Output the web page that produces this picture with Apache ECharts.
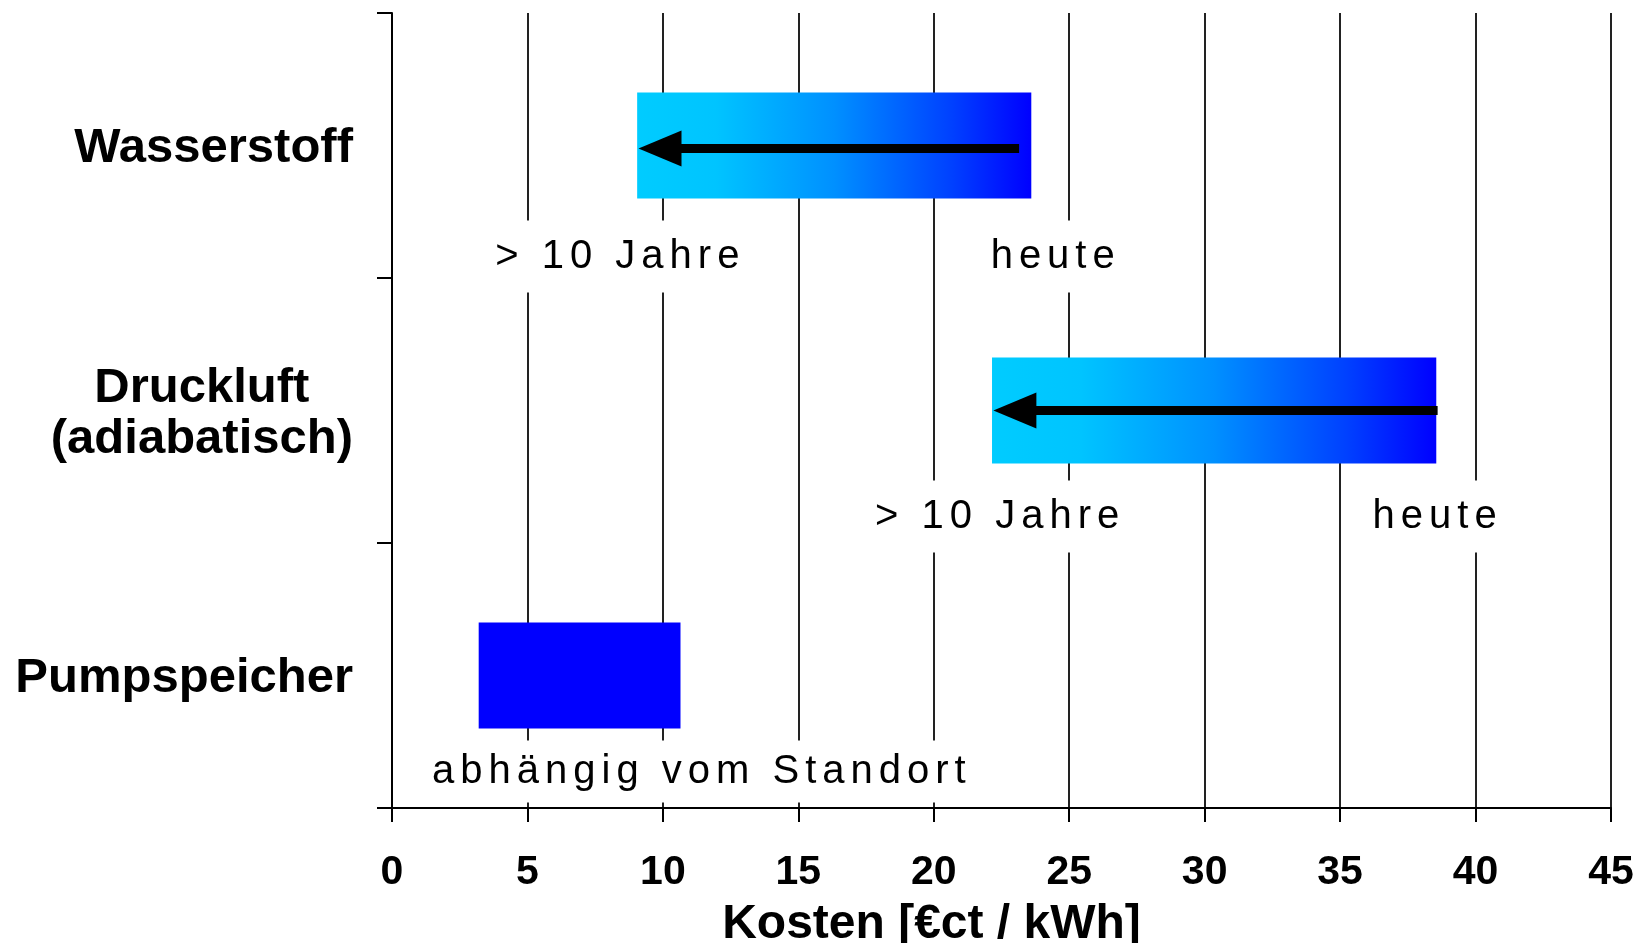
<!DOCTYPE html>
<html>
<head>
<meta charset="utf-8">
<script src="https://cdn.jsdelivr.net/npm/echarts@6/dist/echarts.min.js"></script>
<style>
html,body{margin:0;padding:0;background:#fff}
#chart{width:1650px;height:943px}
</style>
</head>
<body>
<div id="chart"></div>
<script>
// ---- data ----
const categories = ['Wasserstoff', 'Druckluft\n(adiabatisch)', 'Pumpspeicher'];
const rangeStart = [9.05, 22.15, 3.2];
const rangeEnd = [23.6, 38.55, 10.65];
const gradientRows = [true, true, false];
const arrowRows = [0, 1];
const arrowFrom = [23.15, 38.6];   // heute
const arrowTo = [9.1, 22.2];       // > 10 Jahre
const noteTexts = ['> 10 Jahre', 'heute', '> 10 Jahre', 'heute', 'abhängig vom Standort'];
const noteX = [8.43, 24.5, 22.45, 38.6, 11.44];
const noteRows = [0, 0, 1, 1, 2];
const axisMin = 0, axisMax = 45, axisStep = 5;
const axisTitle = 'Kosten [€ct / kWh]';

// letter spacing for the regular-weight annotation texts
(function () {
  const proto = CanvasRenderingContext2D.prototype;
  const orig = proto.fillText;
  proto.fillText = function () {
    try { this.letterSpacing = /bold/.test(this.font) ? '0px' : '6px'; } catch (e) {}
    return orig.apply(this, arguments);
  };
})();

const FF = '"Liberation Sans", Arial, Helvetica, sans-serif';
const noteOffset = [111, 106, 96];
const notePadding = [[16, 34], [16, 34], [11, 34]];
const arrowDy = [3, 0];

const chart = echarts.init(document.getElementById('chart'));
chart.setOption({
  animation: false,
  backgroundColor: '#fff',
  grid: { left: 392, right: 39, top: 13, bottom: 135, containLabel: false, outerBoundsMode: 'none' },
  xAxis: {
    type: 'value', min: axisMin, max: axisMax, interval: axisStep,
    axisLine: { show: true, lineStyle: { color: '#000', width: 2 } },
    axisTick: { show: true, length: 14, lineStyle: { color: '#000', width: 2 } },
    splitLine: { show: true, lineStyle: { color: '#222', width: 2 } },
    axisLabel: { margin: 44, color: '#000', fontSize: 41, fontWeight: 'bold', fontFamily: FF, showMinLabel: true, showMaxLabel: true },
    name: axisTitle, nameLocation: 'middle', nameGap: 93,
    nameTextStyle: { fontSize: 48, fontWeight: 'bold', color: '#000', fontFamily: FF, padding: [0, 140, 0, 0] }
  },
  yAxis: {
    type: 'category', inverse: true, data: categories,
    axisLine: { show: true, lineStyle: { color: '#000', width: 2 } },
    axisTick: { show: true, length: 15, lineStyle: { color: '#000', width: 2 } },
    splitLine: { show: false },
    axisLabel: {
      margin: 39,
      padding: [6, 0, 0, 0],
      formatter: v => v.split('\n').map(l => '{c|' + l + '}').join('\n'),
      rich: { c: { align: 'center', fontSize: 49, fontWeight: 'bold', fontFamily: FF, color: '#000', lineHeight: 51 } }
    }
  },
  series: [
    {
      type: 'custom',
      name: 'Kosten',
      encode: { y: 0, x: [1, 2] },
      data: categories.map((c, i) => [i, rangeStart[i], rangeEnd[i]]),
      renderItem: function (params, api) {
        const row = api.value(0);
        const p0 = api.coord([api.value(1), row]);
        const p1 = api.coord([api.value(2), row]);
        const h = api.size([0, 1])[1] * 0.4;
        const fill = gradientRows[params.dataIndex]
          ? new echarts.graphic.LinearGradient(0, 0, 1, 0, [
              { offset: 0, color: '#00CCFF' },
              { offset: 0.2, color: '#00C4FF' },
              { offset: 0.5, color: '#0090FF' },
              { offset: 0.8, color: '#0040FF' },
              { offset: 1, color: '#0000FF' }
            ])
          : '#0000FF';
        return { type: 'rect', shape: { x: p0[0], y: p0[1] - h / 2, width: p1[0] - p0[0], height: h }, style: { fill: fill } };
      }
    },
    {
      type: 'custom',
      name: 'Entwicklung',
      encode: { y: 0, x: [1, 2] },
      data: arrowRows.map((r, k) => [r, arrowFrom[k], arrowTo[k]]),
      renderItem: function (params, api) {
        const row = api.value(0);
        const pf = api.coord([api.value(1), row]);
        const pt = api.coord([api.value(2), row]);
        const y = pf[1] + arrowDy[params.dataIndex];
        const headLen = 43, headHalf = 18, shaft = 9;
        return {
          type: 'group',
          children: [
            { type: 'rect', shape: { x: pt[0] + headLen - 1, y: y - shaft / 2, width: pf[0] - pt[0] - headLen + 1, height: shaft }, style: { fill: '#000' } },
            { type: 'polygon', shape: { points: [[pt[0], y], [pt[0] + headLen, y - headHalf], [pt[0] + headLen, y + headHalf]] }, style: { fill: '#000' } }
          ]
        };
      }
    },
    {
      type: 'custom',
      name: 'Hinweise',
      encode: { y: 0, x: 1 },
      data: noteTexts.map((t, k) => [noteRows[k], noteX[k]]),
      z: 5,
      renderItem: function (params, api) {
        const row = api.value(0);
        const p = api.coord([api.value(1), row]);
        return {
          type: 'text',
          x: p[0], y: p[1] + noteOffset[row],
          style: {
            text: noteTexts[params.dataIndex],
            font: 'normal 40px ' + FF,
            fill: '#000', align: 'center', verticalAlign: 'middle',
            backgroundColor: '#fff', padding: notePadding[row]
          }
        };
      }
    }
  ]
});
</script>
</body>
</html>
